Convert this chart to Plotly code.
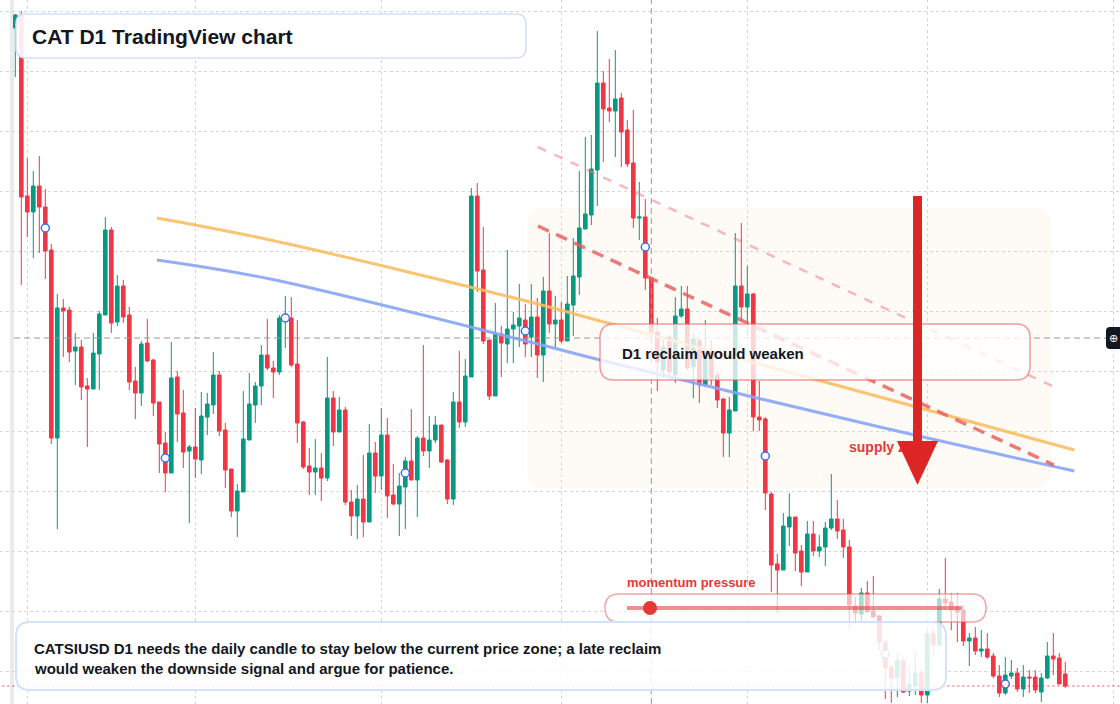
import plotly.graph_objects as go
import pandas as pd

# ---------------- data ----------------
start = pd.Timestamp("2025-01-30")

opens = [676, 689, 508, 492, 518, 497, 454, 266, 396, 394,
         353, 357, 318, 315, 350, 389, 474, 382, 418, 389,
         323, 311, 361, 344, 302, 261, 231, 327, 291, 253,
         257, 244, 287, 299, 329, 274, 235, 193, 212, 264,
         299, 318, 349, 336, 332, 384, 386, 340, 282, 238,
         232, 236, 226, 306, 272, 294, 202, 188, 205, 182,
         251, 228, 269, 209, 200, 217, 243, 224, 266, 253,
         264, 279, 244, 205, 302, 282, 327, 508, 434, 364,
         308, 370, 360, 375, 378, 384, 367, 387, 349, 413,
         380, 384, 363, 399, 427, 475, 489, 534, 621, 596,
         593, 606, 574, 541, 486, 487, 426, 372, 334, 367,
         329, 388, 395, 337, 364, 319, 354, 329, 305, 271,
         293, 418, 397, 410, 287, 285, 210, 140, 134, 177,
         187, 153, 132, 170, 153, 157, 176, 185, 174, 157,
         98, 90, 111, 93, 88, 62, 37, 27, 43, 13,
         18, 31, 9, 70, 59, 105, 102, 97, 94, 63,
         66, 53, 55, 48, 28, 11, 28, 31, 15, 27,
         27, 12, 26, 48, 46, 30]

highs = [690, 693, 546, 533, 548, 515, 460, 410, 405, 397,
         371, 364, 326, 371, 393, 487, 477, 429, 424, 397,
         337, 363, 385, 345, 302, 272, 362, 333, 314, 259,
         296, 312, 311, 352, 333, 281, 235, 220, 313, 331,
         322, 359, 385, 343, 389, 408, 407, 384, 283, 256,
         265, 251, 347, 313, 307, 297, 214, 219, 249, 280,
         262, 296, 286, 240, 231, 247, 295, 268, 359, 288,
         288, 279, 245, 312, 353, 345, 516, 521, 477, 364,
         401, 378, 454, 392, 420, 400, 420, 406, 427, 471,
         408, 402, 428, 466, 533, 567, 569, 673, 633, 645,
         654, 611, 584, 594, 522, 505, 426, 386, 364, 369,
         407, 418, 418, 371, 364, 384, 364, 332, 306, 307,
         471, 481, 438, 411, 323, 287, 212, 150, 191, 211,
         187, 159, 183, 183, 169, 182, 230, 204, 185, 164,
         107, 116, 123, 128, 89, 64, 39, 51, 46, 37,
         52, 34, 76, 74, 115, 146, 111, 111, 99, 71,
         77, 74, 71, 51, 39, 47, 44, 36, 39, 34,
         34, 31, 62, 71, 51, 42]

lows = [627, 419, 467, 446, 451, 425, 260, 175, 347, 342,
        319, 304, 257, 315, 314, 389, 371, 378, 381, 314,
        285, 298, 342, 288, 231, 212, 231, 262, 236, 181,
        226, 230, 269, 290, 268, 216, 187, 167, 212, 264,
        281, 299, 334, 306, 329, 356, 337, 261, 235, 209,
        209, 203, 223, 258, 272, 199, 168, 165, 167, 182,
        211, 214, 186, 199, 168, 175, 224, 187, 248, 236,
        261, 241, 200, 199, 276, 277, 327, 412, 360, 304,
        308, 327, 341, 341, 357, 347, 347, 326, 322, 371,
        357, 361, 363, 368, 409, 475, 479, 498, 542, 582,
        547, 537, 537, 476, 464, 414, 362, 313, 326, 324,
        321, 386, 334, 306, 301, 319, 319, 296, 247, 247,
        293, 382, 369, 273, 273, 194, 112, 91, 134, 158,
        133, 118, 132, 148, 147, 138, 174, 165, 146, 74,
        80, 83, 92, 87, 53, 5, 1, 7, 11, 8,
        9, 1, 1, 50, 59, 94, 74, 62, 58, 38,
        49, 47, 45, 26, 7, 9, 25, 12, 7, 11,
        11, 2, 25, 29, 20, 16]

closes = [689, 507, 492, 518, 497, 453, 266, 396, 393, 352,
          357, 317, 315, 351, 390, 474, 381, 418, 387, 322,
          311, 360, 343, 301, 260, 231, 326, 290, 252, 257,
          245, 288, 300, 329, 273, 234, 193, 213, 265, 300,
          318, 349, 336, 332, 386, 388, 339, 281, 237, 232,
          236, 226, 306, 272, 294, 202, 188, 205, 182, 251,
          228, 269, 208, 200, 218, 243, 224, 266, 253, 264,
          279, 242, 205, 302, 282, 328, 508, 433, 363, 308,
          370, 361, 375, 379, 386, 360, 387, 349, 413, 380,
          384, 363, 400, 428, 476, 490, 535, 621, 595, 593,
          605, 572, 540, 486, 487, 426, 372, 342, 357, 332,
          388, 395, 336, 365, 319, 354, 326, 304, 271, 294,
          418, 397, 410, 287, 284, 211, 139, 134, 178, 187,
          151, 132, 170, 153, 157, 176, 185, 173, 157, 99,
          91, 111, 92, 87, 62, 36, 26, 44, 12, 20,
          31, 9, 70, 59, 105, 101, 94, 92, 63, 66,
          53, 55, 47, 28, 11, 29, 31, 15, 27, 26,
          14, 26, 48, 45, 20, 18]

# pivot markers (day index, price)
marker_days = [5, 25, 45, 65, 85, 105, 125, 145, 165]
marker_vals = [476, 246, 386, 231, 373, 457, 248, 50, 20]

# moving-average style guide lines (day offset, price)
ma_slow_days = [23.6, 42.5, 85.8, 97.5, 144.1, 176.5]
ma_slow_vals = [486, 464, 402, 383, 307, 254]
ma_fast_days = [23.6, 42.5, 85.8, 97.5, 144.1, 176.5]
ma_fast_vals = [444, 425, 362, 344, 277, 233]

# descending trend lines (day offset, price)
trend_outer_days = [87.1, 172.8]
trend_outer_vals = [557, 318]
trend_inner_days = [87.1, 173.1]
trend_inner_vals = [478, 239]

crosshair_day = 106
crosshair_price = 366

dates = pd.date_range(start, periods=len(opens), freq="D")
last_close = closes[-1]

W, H = 1120, 704
FONT = "Liberation Sans, Arial, sans-serif"
GREEN = "#089981"
RED = "#f23645"


def day(k):
    return start + pd.Timedelta(days=k)


def X(px):
    return px / W


def Y(py):
    return 1 - py / H


def rrect(x0, y0, x1, y1, r):
    p = [
        f"M {X(x0 + r)},{Y(y0)}",
        f"L {X(x1 - r)},{Y(y0)}",
        f"Q {X(x1)},{Y(y0)} {X(x1)},{Y(y0 + r)}",
        f"L {X(x1)},{Y(y1 - r)}",
        f"Q {X(x1)},{Y(y1)} {X(x1 - r)},{Y(y1)}",
        f"L {X(x0 + r)},{Y(y1)}",
        f"Q {X(x0)},{Y(y1)} {X(x0)},{Y(y1 - r)}",
        f"L {X(x0)},{Y(y0 + r)}",
        f"Q {X(x0)},{Y(y0)} {X(x0 + r)},{Y(y0)}",
        "Z",
    ]
    return " ".join(p)


fig = go.Figure()

fig.add_trace(go.Candlestick(
    x=dates, open=opens, high=highs, low=lows, close=closes,
    increasing=dict(line=dict(color=GREEN, width=1), fillcolor=GREEN),
    decreasing=dict(line=dict(color=RED, width=1), fillcolor=RED),
    whiskerwidth=0, showlegend=False, hoverinfo="skip",
))

fig.add_trace(go.Scatter(
    x=[day(k) for k in ma_slow_days], y=ma_slow_vals, mode="lines",
    line=dict(color="rgba(249,190,100,0.9)", width=3, shape="spline"),
    showlegend=False, hoverinfo="skip"))
fig.add_trace(go.Scatter(
    x=[day(k) for k in ma_fast_days], y=ma_fast_vals, mode="lines",
    line=dict(color="rgba(135,165,245,0.9)", width=3, shape="spline"),
    showlegend=False, hoverinfo="skip"))
fig.add_trace(go.Scatter(
    x=[day(k) for k in trend_outer_days], y=trend_outer_vals, mode="lines",
    line=dict(color="rgba(240,120,120,0.5)", width=2.5, dash="9px,9px"),
    showlegend=False, hoverinfo="skip"))
fig.add_trace(go.Scatter(
    x=[day(k) for k in trend_inner_days], y=trend_inner_vals, mode="lines",
    line=dict(color="rgba(232,90,90,0.8)", width=3.5, dash="12px,8px"),
    showlegend=False, hoverinfo="skip"))
fig.add_trace(go.Scatter(
    x=[day(k) for k in marker_days], y=marker_vals, mode="markers",
    marker=dict(size=8, color="white", line=dict(color="#3d6fe6", width=1.5)),
    showlegend=False, hoverinfo="skip"))
# last price line
fig.add_trace(go.Scatter(
    x=[day(-3), day(186)], y=[last_close, last_close], mode="lines",
    line=dict(color="rgba(242,54,69,0.9)", width=1, dash="2px,3px"),
    showlegend=False, hoverinfo="skip"))
# supply zone label (drawn under the arrow)
fig.add_trace(go.Scatter(
    x=[day((849 - 15.3) / 6)], y=[704 - 448], mode="text", text=["<b>supply zone</b>"],
    textposition="middle right",
    textfont=dict(family=FONT, size=14, color="#e53935"),
    showlegend=False, hoverinfo="skip"))

shapes = [
    dict(type="rect", xref="paper", yref="paper", x0=X(10), x1=X(14), y0=0, y1=1,
         fillcolor="#ebebeb", line=dict(width=0), layer="below"),
    dict(type="path", xref="paper", yref="paper", path=rrect(527, 208, 1052, 488, 18),
         fillcolor="rgba(250,236,222,0.26)", line=dict(width=0), layer="below"),
    # crosshair
    dict(type="line", xref="paper", yref="y", x0=X(14), x1=X(1106),
         y0=crosshair_price, y1=crosshair_price,
         line=dict(color="#999999", width=1, dash="6px,4px"), layer="above"),
    dict(type="line", xref="x", yref="paper", x0=day(crosshair_day), x1=day(crosshair_day),
         y0=0, y1=1, line=dict(color="#999999", width=1, dash="6px,4px"), layer="above"),
    # title box
    dict(type="path", xref="paper", yref="paper", path=rrect(16, 14, 526, 58, 10),
         fillcolor="rgba(255,255,255,0.9)", line=dict(color="#d3e1fb", width=1.5), layer="above"),
    # D1 reclaim box
    dict(type="path", xref="paper", yref="paper", path=rrect(600, 324, 1030, 380, 14),
         fillcolor="rgba(255,255,255,0.78)", line=dict(color="rgba(235,90,90,0.6)", width=1.5),
         layer="above"),
    # momentum pill
    dict(type="path", xref="paper", yref="paper", path=rrect(605, 594, 986, 622, 14),
         fillcolor="rgba(255,255,255,0.65)", line=dict(color="rgba(235,90,90,0.55)", width=1.5),
         layer="above"),
    dict(type="line", xref="paper", yref="paper", x0=X(627), x1=X(962), y0=Y(608), y1=Y(608),
         line=dict(color="rgba(226,70,70,0.6)", width=4), layer="above"),
    dict(type="circle", xref="paper", yref="paper", x0=X(643), x1=X(657), y0=Y(615), y1=Y(601),
         fillcolor="#e53935", line=dict(width=0), layer="above"),
    # bottom note box
    dict(type="path", xref="paper", yref="paper", path=rrect(16, 622, 946, 690, 14),
         fillcolor="rgba(255,255,255,0.85)", line=dict(color="#d3e1fb", width=2), layer="above"),
    # big arrow
    dict(type="line", xref="paper", yref="paper", x0=X(917.5), x1=X(917.5), y0=Y(196), y1=Y(445),
         line=dict(color="#dc2626", width=9), layer="above"),
    dict(type="path", xref="paper", yref="paper",
         path=f"M {X(897)},{Y(441)} L {X(938)},{Y(441)} L {X(917.5)},{Y(485)} Z",
         fillcolor="#dc2626", line=dict(width=0), layer="above"),
    # crosshair price tag
    dict(type="path", xref="paper", yref="paper", path=rrect(1106, 327, 1126, 349, 4),
         fillcolor="#131722", line=dict(width=0), layer="above"),
]

annotations = [
    dict(text="<b>CAT D1 TradingView chart</b>", x=X(30), y=Y(36), xref="paper", yref="paper",
         xanchor="left", yanchor="middle", showarrow=False,
         font=dict(family=FONT, size=21, color="#131722")),
    dict(text="<b>D1 reclaim would weaken</b>", x=X(620), y=Y(353), xref="paper", yref="paper",
         xanchor="left", yanchor="middle", showarrow=False,
         font=dict(family=FONT, size=15, color="#131722")),
    dict(text="<b>momentum pressure</b>", x=X(625), y=Y(582), xref="paper", yref="paper",
         xanchor="left", yanchor="middle", showarrow=False,
         font=dict(family=FONT, size=13, color="#e53935")),
    dict(text="<b>CATSIUSD D1 needs the daily candle to stay below the current price zone; a late reclaim</b>",
         x=X(32), y=Y(648), xref="paper", yref="paper",
         xanchor="left", yanchor="middle", showarrow=False,
         font=dict(family=FONT, size=15, color="#131722")),
    dict(text="<b>would weaken the downside signal and argue for patience.</b>",
         x=X(32), y=Y(668), xref="paper", yref="paper",
         xanchor="left", yanchor="middle", showarrow=False,
         font=dict(family=FONT, size=15, color="#131722")),
    dict(text="⊕", x=X(1113), y=Y(338), xref="paper", yref="paper",
         xanchor="center", yanchor="middle", showarrow=False,
         font=dict(family="DejaVu Sans", size=11, color="white")),
]

fig.update_layout(
    width=W, height=H,
    margin=dict(l=0, r=0, t=0, b=0),
    paper_bgcolor="white", plot_bgcolor="white",
    showlegend=False,
    boxgap=0.25, boxgroupgap=0.2,
    shapes=shapes, annotations=annotations,
    xaxis=dict(type="date", range=[day(-15.3 / 6), day((W - 15.3) / 6)],
               showgrid=True, gridcolor="#d6d6d6", griddash="dot", gridwidth=1,
               dtick="M1", tick0="2025-01-01", showticklabels=False, ticks="",
               zeroline=False, showline=False, rangeslider=dict(visible=False), fixedrange=True),
    yaxis=dict(range=[0, 704], showgrid=True, gridcolor="#d6d6d6", griddash="dot", gridwidth=1,
               dtick=60, tick0=33, showticklabels=False, ticks="", zeroline=False, showline=False,
               fixedrange=True),
)

fig.write_html("out.html")
